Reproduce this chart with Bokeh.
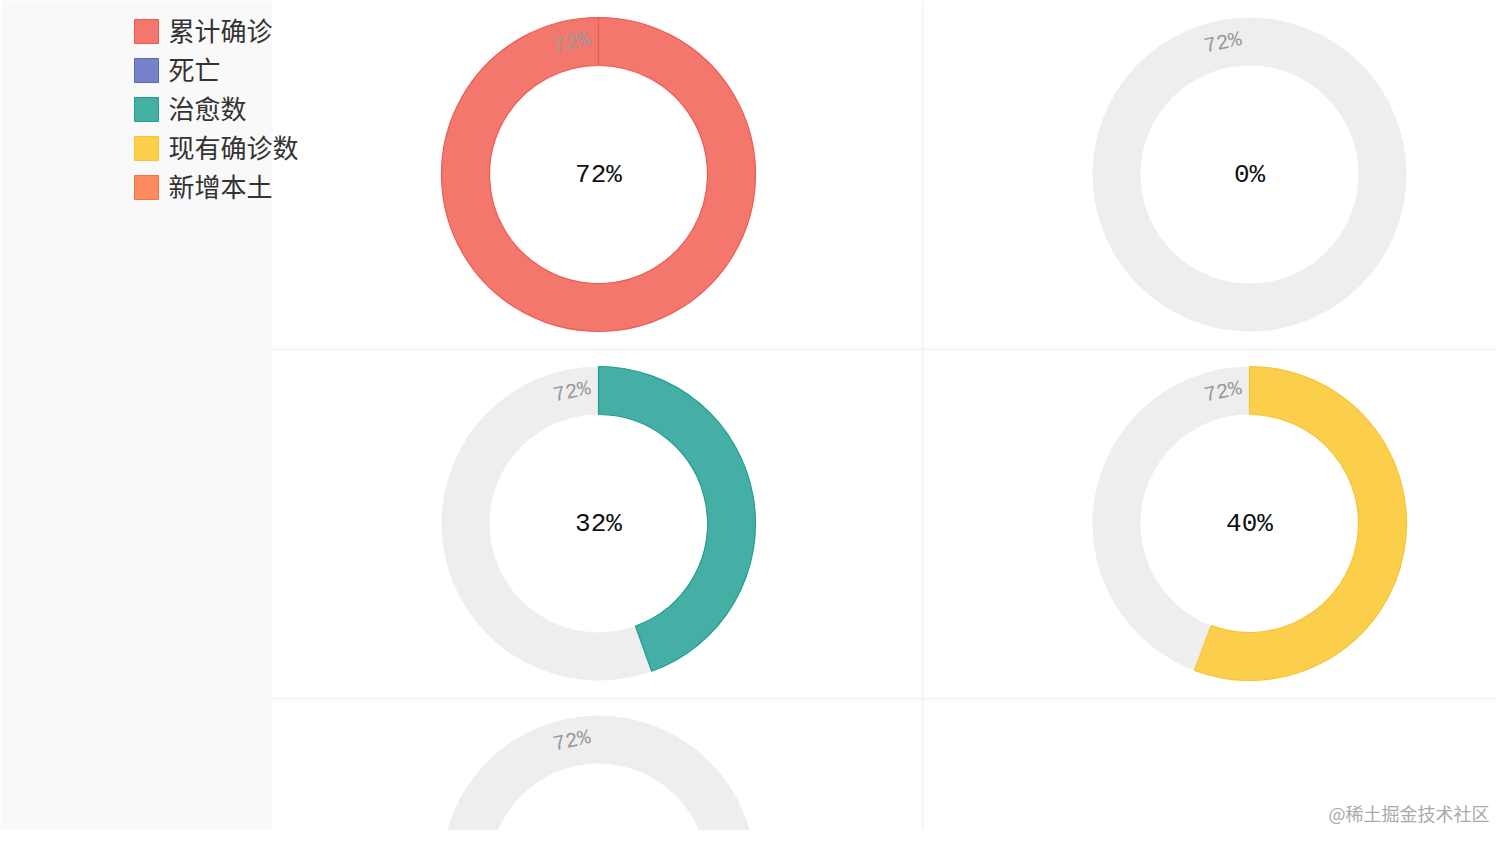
import math
from bokeh.plotting import figure
from bokeh.models import Range1d
from bokeh.core.properties import value
from bokeh.embed import file_html
from bokeh.resources import INLINE

# ---- data ----
series_names = ["累计确诊", "死亡", "治愈数", "现有确诊数", "新增本土"]
series_colors = ["#f3776d", "#7683cb", "#46afa5", "#fbcf4c", "#fe8a5f"]
border_colors = ["#ec5a50", "#5a68b8", "#22a08f", "#f5c534", "#f7703f"]
center_labels = ["72%", "0%", "32%", "40%", ""]
arc_percent = [100, 0, 44.5, 55.7, 0]
ring_labels = ["72%", "72%", "72%", "72%", "72%"]

# ---- layout (page pixels) ----
W, H = 1496, 830
def Y(py):
    return 846 - py

p = figure(width=W, height=H, x_range=Range1d(0, W), y_range=Range1d(846 - H, 846),
           output_backend="svg", toolbar_location=None, min_border=0)
p.axis.visible = False
p.grid.visible = False
p.outline_line_color = None
p.background_fill_color = "white"
p.border_fill_color = "white"

# left legend panel
p.quad(left=0, right=272, bottom=Y(846), top=Y(0), fill_color="#f9f9f9", line_color=None)

# faint grid separators
p.segment(x0=[922, 272, 272], y0=[Y(0), Y(349), Y(698)],
          x1=[922, 1512, 1512], y1=[Y(846), Y(349), Y(698)],
          line_color="#f4f4f4", line_width=2)

col_x = [598, 1249]
row_y = [174, 523, 872]
R_OUT, R_IN = 157, 109

for i in range(len(series_names)):
    cx = col_x[i % 2]
    cy = Y(row_y[i // 2])
    # background ring
    p.annulus(x=[cx], y=[cy], inner_radius=R_IN, outer_radius=R_OUT,
              fill_color="#eeeeee", line_color=None)
    f = arc_percent[i] / 100.0
    if f > 0:
        f = min(f, 0.99999)
        p.annular_wedge(x=[cx], y=[cy], inner_radius=R_IN, outer_radius=R_OUT,
                        start_angle=math.pi / 2, end_angle=math.pi / 2 - 2 * math.pi * f,
                        direction="clock", fill_color=series_colors[i],
                        line_color=border_colors[i], line_width=1.2)
    # ring label
    a = math.radians(11.5)
    rr = 134
    p.text(x=[cx - rr * math.sin(a)], y=[cy + rr * math.cos(a)], text=[ring_labels[i]],
           angle=math.radians(12), text_align="center", text_baseline="middle",
           text_font=value("Liberation Mono"), text_font_size="21px",
           text_color="#999999")
    # center label
    if center_labels[i]:
        p.text(x=[cx], y=[cy], text=[center_labels[i]], text_align="center",
               text_baseline="middle", text_font=value("Liberation Mono"),
               text_font_size="26px", text_color="#111111")

# legend
leg_y = [31, 70, 109, 148, 187]
p.rect(x=[146] * 5, y=[Y(v) for v in leg_y], width=24, height=24,
       fill_color=series_colors, line_color=border_colors, line_width=1)
p.text(x=[168] * 5, y=[Y(v) + 2 for v in leg_y], text=series_names,
       text_align="left", text_baseline="middle",
       text_font=value("Noto Sans CJK SC"), text_font_size="26px", text_color="#333333")

# watermark
p.text(x=[1489], y=[Y(812)], text=["@稀土掘金技术社区"], text_align="right",
       text_baseline="middle", text_font=value("Noto Sans CJK SC"),
       text_font_size="18px", text_color="#aaaaaa")

open("out.html", "w").write(file_html(p, INLINE))
